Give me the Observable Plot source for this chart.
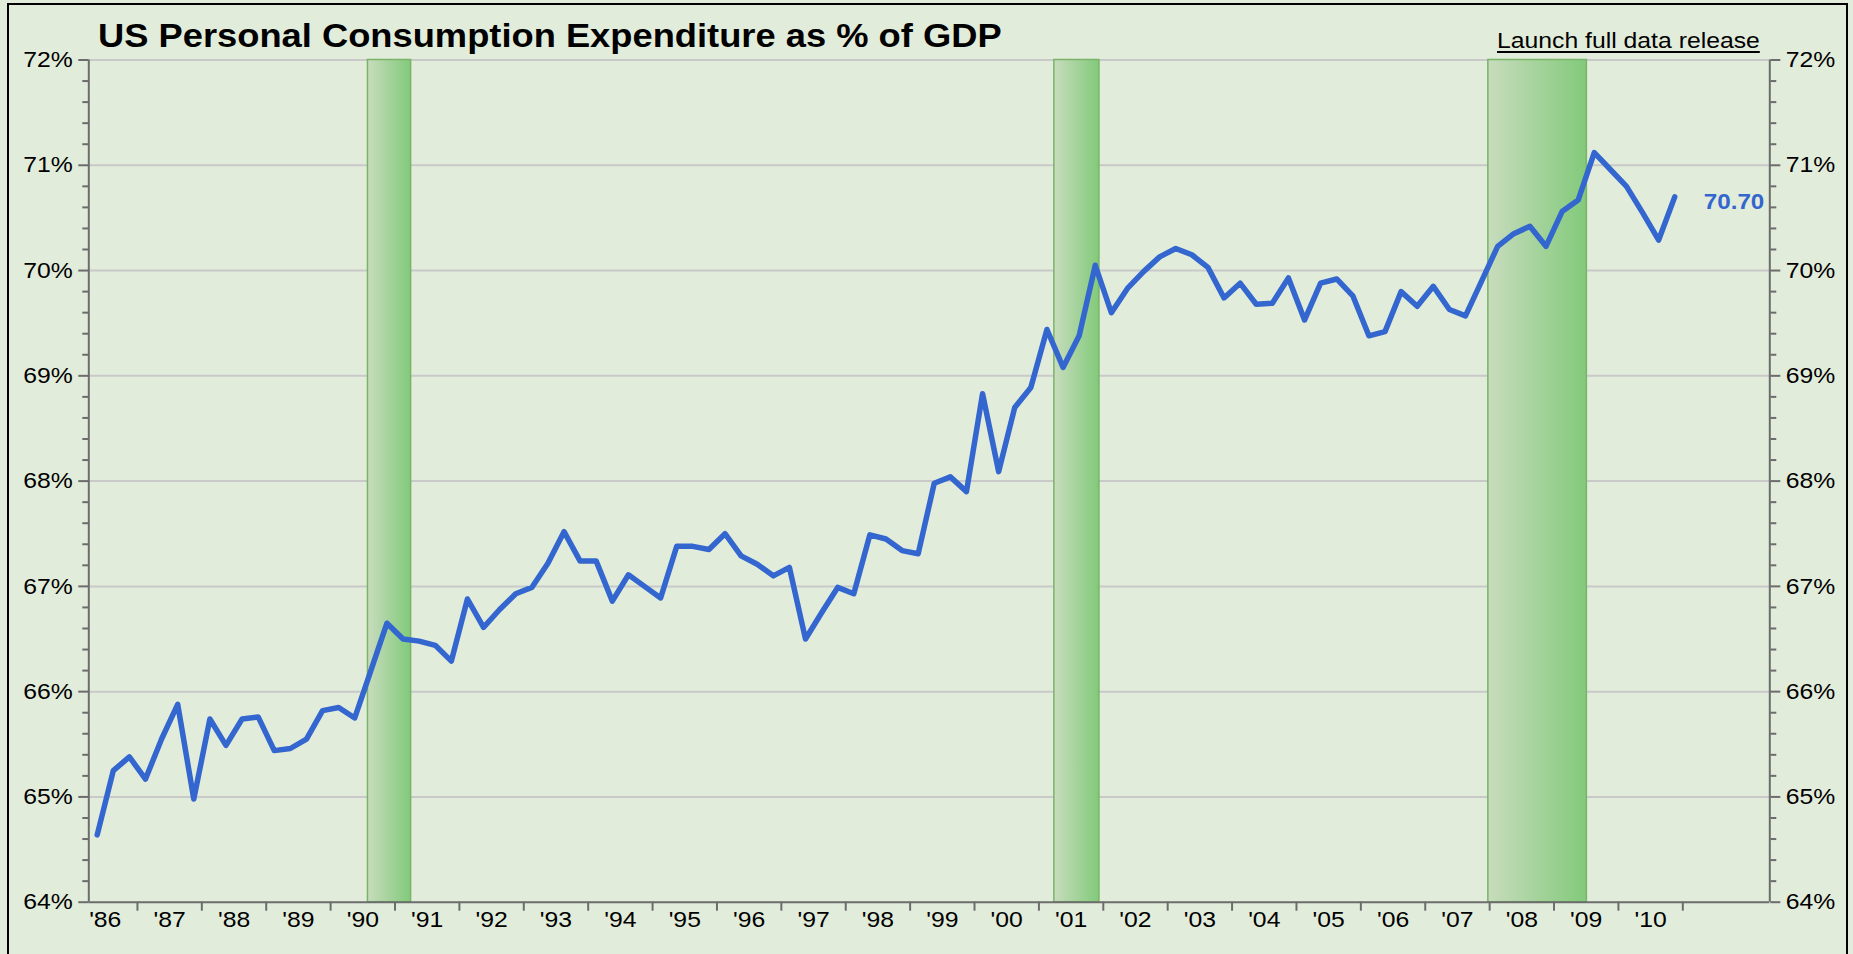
<!DOCTYPE html>
<html>
<head>
<meta charset="utf-8">
<script src="https://cdn.jsdelivr.net/npm/d3@7"></script>
<script src="https://cdn.jsdelivr.net/npm/@observablehq/plot@0.6"></script>
<style>
  html, body { margin: 0; padding: 0; background: #e2ecdb; overflow: hidden; }
  #wrap { position: relative; width: 1853px; height: 954px; background: #e2ecdb; font-family: "Liberation Sans", Arial, sans-serif; }
  #frame { position: absolute; left: 7px; top: 3px; width: 1841px; height: 1000px; box-sizing: border-box; border: 2px solid #000; pointer-events: none; }
  #title { position: absolute; left: 98px; top: 19px; font-size: 33px; line-height: 33px; font-weight: bold; color: #000; transform: scaleX(1.1); transform-origin: left top; white-space: nowrap; }
  #link { position: absolute; left: 1497px; top: 30px; font-size: 22.5px; line-height: 22.5px; color: #000; text-decoration: underline; text-decoration-thickness: 2px; text-underline-offset: 3px; transform: scaleX(1.1); transform-origin: left top; white-space: nowrap; }
  #chart { position: absolute; left: 0; top: 0; }
</style>
</head>
<body>
<div id="wrap">
  <div id="chart"></div>
  <div id="title">US Personal Consumption Expenditure as % of GDP</div>
  <div id="link">Launch full data release</div>
  <div id="frame"></div>
</div>
<script>
// ---- data ----
const firstYear = 1986;
const firstQuarter = 2; // series starts in 1986 Q2
const pceShare = [
  64.64, 65.25, 65.38, 65.17, 65.55, 65.88, 64.98, 65.74, 65.49, 65.74,
  65.76, 65.44, 65.46, 65.55, 65.82, 65.85, 65.75, 66.20, 66.65, 66.50,
  66.48, 66.44, 66.29, 66.88, 66.61, 66.78, 66.93, 66.99, 67.22, 67.52,
  67.24, 67.24, 66.86, 67.11, 67.00, 66.89, 67.38, 67.38, 67.35, 67.50,
  67.29, 67.21, 67.10, 67.18, 66.50, 66.75, 66.99, 66.93, 67.49, 67.45,
  67.34, 67.31, 67.98, 68.04, 67.90, 68.83, 68.09, 68.70, 68.89, 69.44,
  69.08, 69.38, 70.05, 69.60, 69.83, 69.99, 70.13, 70.21, 70.15, 70.03,
  69.74, 69.88, 69.68, 69.69, 69.93, 69.53, 69.88, 69.92, 69.76, 69.38,
  69.42, 69.80, 69.66, 69.85, 69.63, 69.57, 69.90, 70.23, 70.35, 70.42,
  70.23, 70.56, 70.67, 71.12, 70.96, 70.80, 70.55, 70.29, 70.70
];
const lastLabel = "70.70";
const recessionStart = [1990.58, 2001.24, 2007.98];
const recessionEnd   = [1991.25, 2001.94, 2009.51];
const yearLabels = ["'86","'87","'88","'89","'90","'91","'92","'93","'94","'95","'96","'97","'98","'99","'00","'01","'02","'03","'04","'05","'06","'07","'08","'09","'10"];
const yearTicks = [1987,1988,1989,1990,1991,1992,1993,1994,1995,1996,1997,1998,1999,2000,2001,2002,2003,2004,2005,2006,2007,2008,2009,2010,2011];
const yTicks = [64, 65, 66, 67, 68, 69, 70, 71, 72];
const gridValues = [65, 66, 67, 68, 69, 70, 71, 72];
const yMinorTicks = d3.range(64, 72.001, 0.2).map(v => +v.toFixed(1)).filter(v => Math.abs(v - Math.round(v)) > 0.01);

// ---- tables ----
const series = pceShare.map((v, i) => {
  const qIndex = (firstQuarter - 1) + i;
  const year = firstYear + Math.floor(qIndex / 4);
  const q = (qIndex % 4) + 1;
  return {t: year + (q - 0.5) / 4, v};
});
const recessions = recessionStart.map((s, i) => ({start: s, end: recessionEnd[i]}));
const labels = yearLabels.map((s, i) => ({x: firstYear + i + 0.5, s}));
const last = series[series.length - 1];

const blue = "#3366cf";
const axisGray = "#6c6c6c";
const fs = 22.5;

const plot = Plot.plot({
  width: 1853,
  height: 954,
  marginLeft: 88.3,
  marginRight: 83.7,
  marginTop: 59.5,
  marginBottom: 52.3,
  x: {domain: [1986.2445, 2012.351], axis: null},
  y: {domain: [64, 72], axis: null},
  style: {background: "transparent", fontFamily: "'Liberation Sans', Arial, sans-serif", overflow: "visible"},
  marks: [
    Plot.ruleY(gridValues, {stroke: "#c9c9c9", strokeWidth: 2}),
    Plot.rect(recessions, {x1: "start", x2: "end", y1: 64, y2: 72, fill: "url(#recGrad)", stroke: "#79b469", strokeWidth: 1.5}),
    Plot.ruleY([64], {stroke: axisGray, strokeWidth: 2}),
    Plot.ruleX([1986.2445, 2012.351], {stroke: axisGray, strokeWidth: 2}),
    Plot.axisY({anchor: "left", ticks: yTicks, tickSize: 10, tickPadding: 6, tickFormat: d => d + "%", stroke: axisGray, strokeWidth: 2, fill: "#000", fontSize: fs, label: null}),
    Plot.axisY({anchor: "left", ticks: yMinorTicks, tickSize: 6, tickFormat: () => "", stroke: axisGray, strokeWidth: 2, label: null}),
    Plot.axisY({anchor: "right", ticks: yTicks, tickSize: 10, tickPadding: 6, tickFormat: d => d + "%", stroke: axisGray, strokeWidth: 2, fill: "#000", fontSize: fs, label: null}),
    Plot.axisY({anchor: "right", ticks: yMinorTicks, tickSize: 6, tickFormat: () => "", stroke: axisGray, strokeWidth: 2, label: null}),
    Plot.axisX({anchor: "bottom", ticks: yearTicks, tickSize: 9, tickFormat: () => "", stroke: axisGray, strokeWidth: 2, label: null}),
    Plot.text(labels, {x: "x", frameAnchor: "bottom", dy: 25, text: "s", fontSize: fs, fill: "#000"}),
    Plot.line(series, {x: "t", y: "v", stroke: blue, strokeWidth: 5.5, strokeLinejoin: "round", strokeLinecap: "round"}),
    Plot.text([last], {x: "t", y: "v", text: () => lastLabel, dx: 29, dy: 5.5, textAnchor: "start", fill: blue, fontWeight: "bold", fontSize: 22})
  ]
});

const defs = d3.select(plot).insert("defs", ":first-child");
const grad = defs.append("linearGradient").attr("id", "recGrad").attr("x1", "0").attr("x2", "1").attr("y1", "0").attr("y2", "0");
grad.append("stop").attr("offset", "0%").attr("stop-color", "#c8dcbd");
grad.append("stop").attr("offset", "100%").attr("stop-color", "#82ca7b");

document.getElementById("chart").appendChild(plot);

// widen glyphs slightly to match the reference's wide lettering
plot.querySelectorAll("text").forEach(t => {
  const len = t.getComputedTextLength();
  if (len > 0) {
    t.setAttribute("textLength", (len * 1.1).toFixed(2));
    t.setAttribute("lengthAdjust", "spacingAndGlyphs");
  }
});
</script>
</body>
</html>
